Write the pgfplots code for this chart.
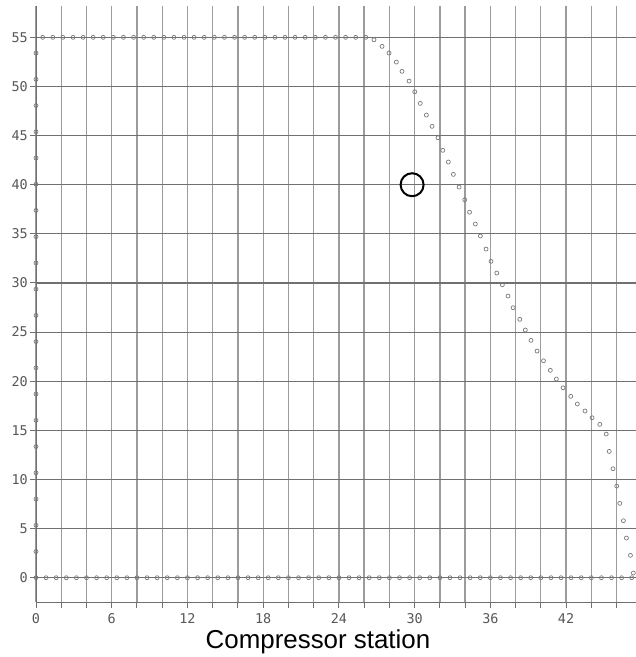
\documentclass[border=0pt]{standalone}
\usepackage{pgfplots}
\pgfplotsset{compat=1.18}
\usepackage{fontspec}
\setmainfont{Liberation Sans}
\setmonofont{DejaVu Sans Mono}
\definecolor{gridv}{HTML}{9C9C9C}
\definecolor{gridh}{HTML}{707070}
\definecolor{ticktext}{HTML}{575757}
\definecolor{markgray}{HTML}{7A7A7A}

% operating envelope of the compressor station
\pgfplotstableread{
x y
0 2.67
0 5.34
0 8.01
0 10.68
0 13.35
0 16.02
0 18.69
0 21.36
0 24.03
0 26.70
0 29.37
0 32.04
0 34.71
0 37.38
0 40.05
0 42.72
0 45.39
0 48.06
0 50.73
0 53.40
0.53 55
1.33 55
2.13 55
2.93 55
3.73 55
4.53 55
5.33 55
6.13 55
6.93 55
7.73 55
8.53 55
9.33 55
10.13 55
10.93 55
11.73 55
12.53 55
13.33 55
14.13 55
14.93 55
15.73 55
16.53 55
17.33 55
18.13 55
18.93 55
19.73 55
20.53 55
21.33 55
22.13 55
22.93 55
23.73 55
24.53 55
25.33 55
26.13 55
26.78 54.75
27.42 54.08
27.97 53.40
28.55 52.48
29.00 51.54
29.56 50.55
30.01 49.46
30.45 48.28
30.93 47.09
31.38 45.94
31.85 44.78
32.23 43.50
32.67 42.31
33.07 41.05
33.52 39.76
33.97 38.47
34.35 37.20
34.81 36.00
35.21 34.78
35.66 33.45
36.05 32.20
36.51 31.01
36.95 29.82
37.40 28.67
37.80 27.48
38.33 26.30
38.77 25.21
39.22 24.16
39.70 23.07
40.21 22.08
40.75 21.11
41.23 20.22
41.76 19.33
42.37 18.46
42.89 17.68
43.50 16.97
44.06 16.28
44.67 15.61
45.18 14.62
45.42 12.86
45.72 11.09
46.01 9.33
46.25 7.57
46.54 5.80
46.78 4.04
47.10 2.28
47.33 0.48
0 0
0.8 0
1.6 0
2.4 0
3.2 0
4.0 0
4.8 0
5.6 0
6.4 0
7.2 0
8.0 0
8.8 0
9.6 0
10.4 0
11.2 0
12.0 0
12.8 0
13.6 0
14.4 0
15.2 0
16.0 0
16.8 0
17.6 0
18.4 0
19.2 0
20.0 0
20.8 0
21.6 0
22.4 0
23.2 0
24.0 0
24.8 0
25.6 0
26.4 0
27.2 0
28.0 0
28.8 0
29.6 0
30.4 0
31.2 0
32.0 0
32.8 0
33.6 0
34.4 0
35.2 0
36.0 0
36.8 0
37.6 0
38.4 0
39.2 0
40.0 0
40.8 0
41.6 0
42.4 0
43.2 0
44.0 0
44.8 0
45.6 0
46.4 0
47.2 0
}\envelope

\begin{document}
\begin{tikzpicture}
\begin{axis}[
  scale only axis,
  width=600bp, height=596bp,
  xmin=0, xmax=47.54,
  ymin=-2.47, ymax=58.19,
  axis x line=bottom, axis y line=left,
  axis line style={-, draw=gridh, line width=1bp},
  xtick={0,6,...,42},
  minor xtick={2,4,...,46},
  ytick={0,5,...,55},
  xmajorgrids, xminorgrids, ymajorgrids,
  major x grid style={draw=gridv, line width=1.3bp},
  minor x grid style={draw=gridv, line width=1.3bp},
  major y grid style={draw=gridh, line width=1.1bp},
  tick align=outside,
  major tick length=6bp, minor tick length=6bp,
  every tick/.style={draw=gridh, line width=1bp},
  /pgf/number format/assume math mode=true,
  tick label style={font=\fontsize{13.5}{13.5}\selectfont\ttfamily, text=ticktext, inner sep=1bp},
  xticklabel style={yshift=-4bp},
  yticklabel style={xshift=-1bp},
  xlabel={Compressor station},
  xlabel style={at={(axis description cs:0.47,0)}, anchor=base, yshift=-46bp,
    inner sep=0pt, font=\fontsize{26}{26}\selectfont, text=black},
  clip=false,
]
\addplot[only marks, mark=o, mark size=2bp, draw=markgray, line width=0.7bp]
  table {\envelope};
% current operating point
\addplot[only marks, mark=o, mark size=11.5bp, draw=black, line width=2bp]
  coordinates {(29.8,40)};
\coordinate (sw) at (rel axis cs:0,0);
\coordinate (ne) at (rel axis cs:1,1);
\end{axis}
\pgfresetboundingbox
\path[use as bounding box] ([xshift=-36bp,yshift=-55bp]sw) rectangle ([yshift=6bp]ne);
\end{tikzpicture}
\end{document}
